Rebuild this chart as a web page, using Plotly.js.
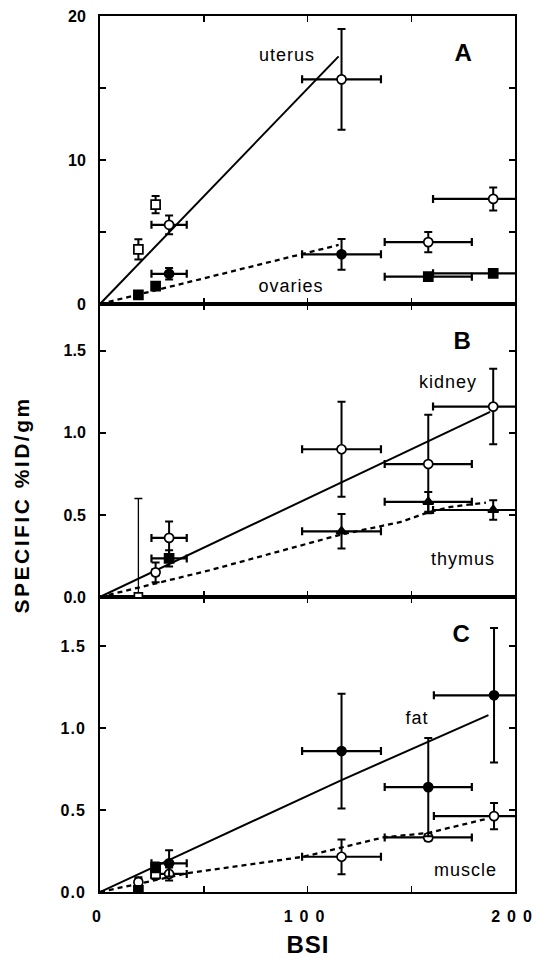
<!DOCTYPE html>
<html>
<head>
<meta charset="utf-8">
<script src="https://cdn.plot.ly/plotly-3.0.1.min.js"></script>
<style>
  html,body{margin:0;padding:0;background:#fff;}
  .xtick text{letter-spacing:7px;}
  .ytick text{letter-spacing:1px;}
  g.annotation text{letter-spacing:1px;}
  g.annotation[data-index="0"] text{letter-spacing:2.5px;}
</style>
</head>
<body>
<div id="chart" style="width:538px;height:959px;"></div>
<script>
// ---------- Panel A : uterus / ovaries ----------
const bsiA        = [18.5, 26.8, 33.3, 116.4, 158.2, 189.5];
const bsiErrA     = [1.5, 1.5, 8.5, 19, 21, 29];
const uterusY     = [3.8, 6.9, 5.5, 15.6, 4.3, 7.3];
const uterusErr   = [0.7, 0.6, 0.65, 3.5, 0.7, 0.8];
const uterusSym   = ['square','square','circle','circle','circle','circle'];
const ovariesY    = [0.63, 1.25, 2.1, 3.45, 1.9, 2.13];
const ovariesErr  = [0.15, 0.15, 0.4, 1.07, 0.2, 0.15];
const ovariesSym  = ['square','square','circle','circle','square','square'];
const uterusFitX  = [0, 115];
const uterusFitY  = [0, 17.2];
const ovariesFitX = [0, 115];
const ovariesFitY = [0, 4.1];

// ---------- Panel B : kidney / thymus ----------
const bsiB         = [26.8, 33.3, 116.4, 158.2, 189.5];
const bsiErrB      = [1.5, 8.5, 19, 21, 29];
const kidneyY      = [0.15, 0.36, 0.90, 0.81, 1.16];
const kidneyErr    = [0.06, 0.1, 0.29, 0.30, 0.23];
const kidneyFirstX = [18.5];
const kidneyFirstY = [0.0];
const kidneyFirstErrUp = [0.6];
const thymusX      = [33.3, 116.4, 158.2, 189.5];
const thymusXErr   = [8.5, 19, 21, 29];
const thymusY      = [0.235, 0.40, 0.58, 0.53];
const thymusErr    = [0.05, 0.105, 0.06, 0.06];
const thymusSym    = ['square','triangle-up','triangle-up','triangle-up'];
const kidneyFitX   = [0, 188];
const kidneyFitY   = [0, 1.128];
const thymusFitX   = [0, 53, 116, 145, 158, 169, 186];
const thymusFitY   = [0, 0.163, 0.38, 0.457, 0.515, 0.549, 0.575];

// ---------- Panel C : fat / muscle ----------
const bsiC       = [18.5, 26.8, 33.3, 116.4, 158.2, 189.9];
const bsiErrC    = [1.5, 1.5, 8.5, 19, 21, 29];
const fatY       = [0.01, 0.15, 0.175, 0.86, 0.64, 1.20];
const fatErr     = [0.02, 0.03, 0.08, 0.35, 0.30, 0.41];
const fatSym     = ['square','square','circle','circle','circle','circle'];
const muscleY    = [0.06, 0.11, 0.11, 0.215, 0.333, 0.463];
const muscleErr  = [0.03, 0.03, 0.04, 0.106, 0.02, 0.08];
const muscleSym  = ['circle','square','circle','circle','circle','circle'];
const fatFitX    = [0, 116.4, 187.2];
const fatFitY    = [0, 0.683, 1.079];
const muscleFitX = [0, 42, 98, 136.5, 158, 187.2];
const muscleFitY = [0, 0.114, 0.215, 0.333, 0.36, 0.449];

// ---------- labels ----------
const xTickVals  = [0, 50, 100, 150, 200];
const xTickText  = ['0', '', '100', '', '200'];
const aTickVals  = [0, 5, 10, 15, 20];
const aTickText  = ['0', '', '10', '', '20'];
const bcTickVals = [0, 0.5, 1.0, 1.5];
const bcTickText = ['0.0', '0.5', '1.0', '1.5'];

const BLACK = '#000';
function pts(x, y, xe, ye, sym, filled, xa, ya, thick) {
  return {
    type: 'scatter', mode: 'markers', x: x, y: y, xaxis: xa, yaxis: ya,
    marker: {symbol: sym, size: 9, color: filled ? BLACK : '#fff', line: {color: BLACK, width: 1.7}},
    error_x: {type: 'data', array: xe, color: BLACK, thickness: thick || 2.2, width: 4},
    error_y: {type: 'data', array: ye, color: BLACK, thickness: thick || 2, width: 4},
    hoverinfo: 'skip'
  };
}
function fit(x, y, dashed, xa, ya) {
  return {
    type: 'scatter', mode: 'lines', x: x, y: y, xaxis: xa, yaxis: ya,
    line: {color: BLACK, width: dashed ? 2.3 : 2, dash: dashed ? '5px,4px' : 'solid'},
    hoverinfo: 'skip'
  };
}

const data = [
  fit(uterusFitX, uterusFitY, false, 'x3', 'y3'),
  fit(ovariesFitX, ovariesFitY, true, 'x3', 'y3'),
  pts(bsiA, ovariesY, bsiErrA, ovariesErr, ovariesSym, true, 'x3', 'y3'),
  pts(bsiA, uterusY, bsiErrA, uterusErr, uterusSym, false, 'x3', 'y3'),

  fit(kidneyFitX, kidneyFitY, false, 'x2', 'y2'),
  fit(thymusFitX, thymusFitY, true, 'x2', 'y2'),
  {
    type: 'scatter', mode: 'markers', x: kidneyFirstX, y: kidneyFirstY, xaxis: 'x2', yaxis: 'y2',
    marker: {symbol: 'square', size: 8, color: '#fff', line: {color: BLACK, width: 1.7}},
    error_y: {type: 'data', symmetric: false, array: kidneyFirstErrUp, arrayminus: [0], color: BLACK, thickness: 1.3, width: 4},
    hoverinfo: 'skip'
  },
  pts(bsiB, kidneyY, bsiErrB, kidneyErr, 'circle', false, 'x2', 'y2'),
  pts(thymusX, thymusY, thymusXErr, thymusErr, thymusSym, true, 'x2', 'y2'),

  fit(fatFitX, fatFitY, false, 'x', 'y'),
  fit(muscleFitX, muscleFitY, true, 'x', 'y'),
  pts(bsiC, muscleY, bsiErrC, muscleErr, muscleSym, false, 'x', 'y'),
  pts(bsiC, fatY, bsiErrC, fatErr, fatSym, true, 'x', 'y')
];

const tickFont = {family: 'Liberation Sans, Arial, sans-serif', size: 16, color: BLACK, weight: 'bold'};
function xAxis(anchor, labels) {
  return {
    anchor: anchor, domain: [0, 1], range: [0, 200],
    tickmode: 'array', tickvals: xTickVals, ticktext: xTickText,
    showticklabels: labels, ticks: 'inside', ticklen: 6, tickwidth: 1.5, tickcolor: BLACK,
    mirror: 'ticks', showline: true, linewidth: 2, linecolor: BLACK,
    showgrid: false, zeroline: false, tickfont: tickFont, ticklabelstandoff: 9,
    ticklabeloverflow: 'allow', fixedrange: true
  };
}
function yAxis(anchor, dom, rng, tv, tt) {
  return {
    anchor: anchor, domain: dom, range: rng,
    tickmode: 'array', tickvals: tv, ticktext: tt,
    ticks: 'inside', ticklen: 6, tickwidth: 1.5, tickcolor: BLACK,
    mirror: 'ticks', showline: true, linewidth: 2, linecolor: BLACK,
    showgrid: false, zeroline: false, tickfont: tickFont, ticklabelstandoff: 9,
    ticklabeloverflow: 'allow', fixedrange: true
  };
}

const labelFont = {family: 'Liberation Sans, Arial, sans-serif', size: 18, color: BLACK};
const letterFont = {family: 'Liberation Sans, Arial, sans-serif', size: 24, color: BLACK, weight: 'bold'};
function lab(text, x, y, xa, ya, font) {
  return {text: text, x: x, y: y, xref: xa, yref: ya, showarrow: false, font: font, xanchor: 'center', yanchor: 'middle'};
}

const layout = {
  width: 538, height: 959,
  margin: {l: 100, r: 23, t: 16, b: 67},
  paper_bgcolor: '#fff', plot_bgcolor: '#fff',
  showlegend: false,
  xaxis: xAxis('y', true),
  xaxis2: xAxis('y2', false),
  xaxis3: xAxis('y3', false),
  yaxis: yAxis('x', [0, 0.3368], [0, 1.80], bcTickVals, bcTickText),
  yaxis2: yAxis('x2', [0.3368, 0.6712], [0, 1.785], bcTickVals, bcTickText),
  yaxis3: yAxis('x3', [0.6712, 1], [0, 20], aTickVals, aTickText),
  annotations: [
    {text: 'SPECIFIC %ID/gm', xref: 'paper', yref: 'paper', x: -0.188, y: 0.442, textangle: -90,
     showarrow: false, xanchor: 'center', yanchor: 'middle',
     font: {family: 'Liberation Sans, Arial, sans-serif', size: 21, color: BLACK, weight: 'bold'}},
    {text: 'BSI', xref: 'paper', yref: 'paper', x: 0.5, y: -0.060, showarrow: false,
     xanchor: 'center', yanchor: 'middle', borderpad: 0,
     font: {family: 'Liberation Sans, Arial, sans-serif', size: 24, color: BLACK, weight: 'bold'}},
    lab('A', 175.4, 17.5, 'x3', 'y3', letterFont),
    lab('uterus', 90, 17.3, 'x3', 'y3', labelFont),
    lab('ovaries', 92, 1.25, 'x3', 'y3', labelFont),
    lab('B', 174.5, 1.565, 'x2', 'y2', letterFont),
    lab('kidney', 167.7, 1.31, 'x2', 'y2', labelFont),
    lab('thymus', 175, 0.23, 'x2', 'y2', labelFont),
    lab('C', 174, 1.58, 'x', 'y', letterFont),
    lab('fat', 152.8, 1.06, 'x', 'y', labelFont),
    lab('muscle', 176, 0.134, 'x', 'y', labelFont)
  ]
};

Plotly.newPlot('chart', data, layout, {displayModeBar: false, staticPlot: true});
</script>
</body>
</html>
